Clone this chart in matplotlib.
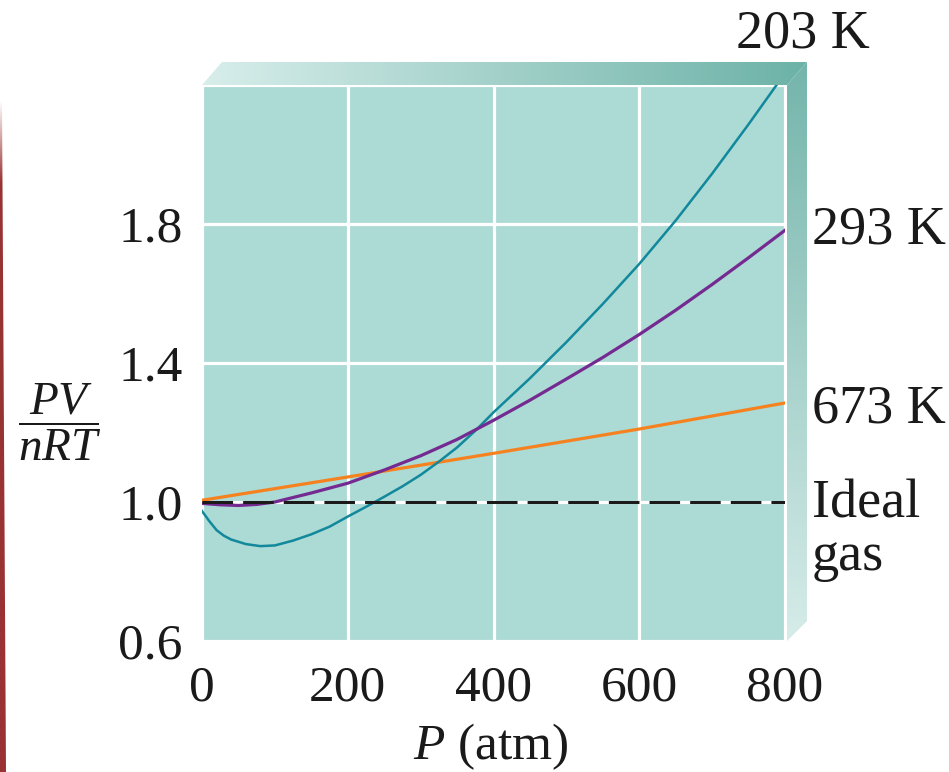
import numpy as np
import matplotlib
matplotlib.use('Agg')
import matplotlib.pyplot as plt
from matplotlib.colors import LinearSegmentedColormap
from matplotlib.patches import Polygon

plt.rcParams['font.family'] = 'Liberation Serif'
plt.rcParams['mathtext.fontset'] = 'custom'
plt.rcParams['mathtext.rm'] = 'Liberation Serif'
plt.rcParams['mathtext.it'] = 'Liberation Serif:italic'

# data
p_203 = [0, 10, 20, 30, 40, 60, 80, 100, 125, 150, 175, 200, 225, 250, 275, 300, 325, 350,
         375, 400, 450, 500, 550, 600, 650, 700, 750, 800]
z_203 = [0.974, 0.945, 0.919, 0.903, 0.892, 0.879, 0.873, 0.875, 0.889, 0.907, 0.929, 0.958,
         0.986, 1.015, 1.045, 1.078, 1.116, 1.157, 1.205, 1.258, 1.356, 1.46, 1.57, 1.685,
         1.81, 1.945, 2.087, 2.234]
p_293 = [0, 25, 50, 75, 100, 150, 200, 250, 300, 350, 400, 450, 500, 550, 600, 650, 700, 750, 800]
z_293 = [0.996, 0.992, 0.99, 0.993, 1.0, 1.026, 1.054, 1.092, 1.133, 1.18, 1.235, 1.293,
         1.354, 1.416, 1.482, 1.552, 1.626, 1.703, 1.782]
p_673 = [0, 200, 400, 600, 800]
z_673 = [1.005, 1.072, 1.14, 1.21, 1.285]
ideal_p = [0, 800]
ideal = [1.0, 1.0]

xticks = [0, 200, 400, 600, 800]
yticks = [0.6, 1.0, 1.4, 1.8, 2.2]
ytick_labels = ['0.6', '1.0', '1.4', '1.8', '']

W, H = 949, 772
fig = plt.figure(figsize=(W / 100, H / 100), dpi=100)

# background layer in pixel coordinates (3d frame + red bar at left)
bg = fig.add_axes([0, 0, 1, 1], zorder=0)
bg.set_axis_off()

def grad_patch(ax, pts, colors, horizontal):
    poly = Polygon(pts, closed=True, facecolor='none', edgecolor='none')
    ax.add_patch(poly)
    cmap = LinearSegmentedColormap.from_list('g', colors)
    g = np.linspace(0, 1, 256)
    arr = g[None, :] if horizontal else g[:, None]
    xs = [p[0] for p in pts]
    ys = [p[1] for p in pts]
    im = ax.imshow(arr, cmap=cmap, extent=(min(xs), max(xs), max(ys), min(ys)),
                   origin='upper', aspect='auto', interpolation='bilinear')
    im.set_clip_path(poly)

grad_patch(bg, [(202, 85), (222, 62), (807, 62), (787, 85)], ['#d8eeeb', '#6cb2a7'], True)
grad_patch(bg, [(787, 85), (807, 62), (807, 621), (787, 641)], ['#74b5ab', '#d6ece9'], False)
grad_patch(bg, [(0, 100), (2, 100), (6, 772), (0, 772)],
           [(0, '#ffffff'), (0.12, '#9a3434'), (1, '#993333')], False)
bg.set_xlim(0, W)
bg.set_ylim(H, 0)

# main plot
ax = fig.add_axes([202 / W, 1 - 641 / H, (785 - 202) / W, (641 - 85) / H], zorder=1)
ax.set_facecolor('#acdad5')
for s in ax.spines.values():
    s.set_visible(False)

ax.plot(p_673, z_673, color='#f5821f', lw=2.3, zorder=3)
ax.plot(p_203, z_203, color='#11889b', lw=1.8, zorder=4)
ax.plot(p_293, z_293, color='#742a90', lw=2.3, zorder=5)
ax.plot(ideal_p, ideal, color='#1a1a1a', lw=2.2, dashes=(10, 3.3), zorder=6)

ax.set_xlim(0, 800)
ax.set_ylim(0.6, 2.2)
ax.set_xticks(xticks)
ax.set_yticks(yticks)
ax.set_yticklabels(ytick_labels)
ax.grid(True, color='white', lw=2.3)
ax.set_axisbelow(True)
ax.tick_params(length=0, labelsize=37, colors='#1a1a1a')
ax.tick_params(axis='y', pad=14)
ax.tick_params(axis='x', pad=17)

# labels
fig.text(491 / W, 1 - 759 / H, r'$P$ (atm)', fontsize=37, ha='center', va='baseline', color='#1a1a1a')
fig.text(60 / W, 1 - 422 / H, r'$\dfrac{PV}{nRT}$', fontsize=34, ha='center', va='center', color='#1a1a1a')

lab = dict(fontsize=39, ha='left', va='baseline', color='#1a1a1a')
fig.text(736 / W, 1 - 48 / H, '203 K', **lab)
fig.text(812 / W, 1 - 243 / H, '293 K', **lab)
fig.text(812 / W, 1 - 423 / H, '673 K', **lab)
fig.text(812 / W, 1 - 518 / H, 'Ideal', **lab)
fig.text(812 / W, 1 - 570 / H, 'gas', **lab)

fig.savefig('out.png', dpi=100)
